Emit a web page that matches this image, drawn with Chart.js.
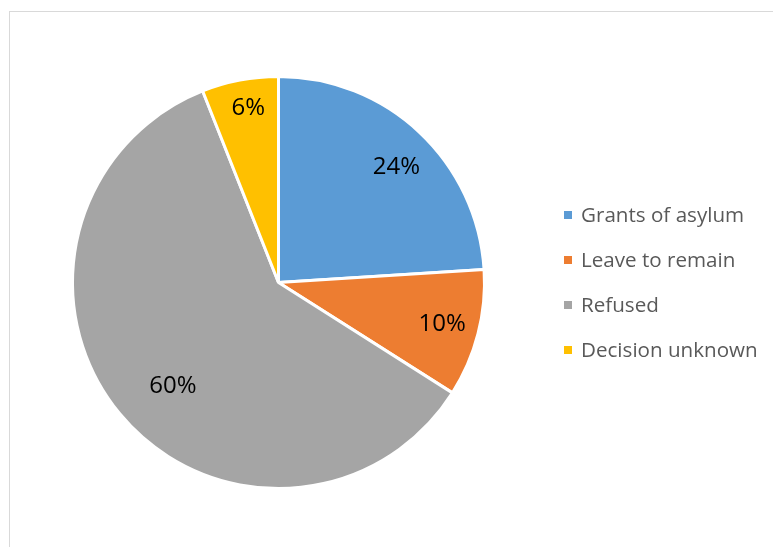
<!DOCTYPE html>
<html>
<head>
<meta charset="utf-8">
<title>Asylum decisions</title>
<script src="https://cdn.jsdelivr.net/npm/chart.js@4.4.0/dist/chart.umd.min.js"></script>
<style>
  html, body { margin: 0; padding: 0; background: #fff; }
  body { width: 773px; height: 547px; overflow: hidden; position: relative; }
  /* chart frame, runs off the right and bottom edges */
  .frame { position: absolute; left: 9px; top: 11px; width: 820px; height: 600px;
           border: 1px solid #d9d9d9; box-sizing: border-box; }
  #wrap { position: absolute; left: 0; top: 0; width: 773px; height: 547px; }
</style>
</head>
<body>
<div class="frame"></div>
<div id="wrap"><canvas id="pieChart" width="773" height="547"></canvas></div>
<script>
// decision outcomes, percent of total
const categories = ["Grants of asylum", "Leave to remain", "Refused", "Decision unknown"];
const shares = [24, 10, 60, 6];
const sliceColors = ["#5B9BD5", "#ED7D31", "#A5A5A5", "#FFC000"];

const FONT = "'Open Sans', 'Liberation Sans', sans-serif";

// percentage text inside each slice
const sliceLabels = {
  id: "sliceLabels",
  afterDatasetsDraw(chart, args, opts) {
    const ctx = chart.ctx;
    const arcs = chart.getDatasetMeta(0).data;
    ctx.save();
    ctx.font = opts.size + "px " + FONT;
    ctx.fillStyle = opts.color;
    ctx.textAlign = "center";
    ctx.textBaseline = "middle";
    arcs.forEach((arc, i) => {
      const mid = (arc.startAngle + arc.endAngle) / 2 + opts.shift[i] * Math.PI / 180;
      const r = arc.outerRadius * opts.radius[i];
      ctx.fillText(shares[i] + "%", arc.x + Math.cos(mid) * r, arc.y + Math.sin(mid) * r);
    });
    ctx.restore();
  }
};

// legend column to the right of the pie
const sideLegend = {
  id: "sideLegend",
  afterDraw(chart, args, opts) {
    const ctx = chart.ctx;
    const arc = chart.getDatasetMeta(0).data[0];
    const top = arc.y - (categories.length - 1) / 2 * opts.spacing;
    ctx.save();
    ctx.font = opts.size + "px " + FONT;
    ctx.textBaseline = "middle";
    categories.forEach((name, i) => {
      const y = top + i * opts.spacing;
      ctx.fillStyle = sliceColors[i];
      ctx.fillRect(opts.x, y - opts.box / 2, opts.box, opts.box);
      ctx.fillStyle = opts.color;
      ctx.fillText(name, opts.x + opts.box + 9, y + 1);
    });
    ctx.restore();
  }
};

new Chart(document.getElementById("pieChart"), {
  type: "pie",
  data: {
    labels: categories,
    datasets: [{
      data: shares,
      backgroundColor: sliceColors,
      borderColor: "#ffffff",
      borderWidth: 3
    }]
  },
  options: {
    responsive: false,
    animation: false,
    layout: { padding: { left: 71, right: 287, top: 74, bottom: 56 } },
    plugins: {
      legend: { display: false },
      tooltip: { enabled: false },
      sliceLabels: { size: 24, color: "#000000", radius: [0.8, 0.82, 0.72, 0.86], shift: [2.5, 0, -5, 1] },
      sideLegend: { x: 564, box: 8, spacing: 45, size: 20.6, color: "#595959" }
    }
  },
  plugins: [sliceLabels, sideLegend]
});
</script>
</body>
</html>
